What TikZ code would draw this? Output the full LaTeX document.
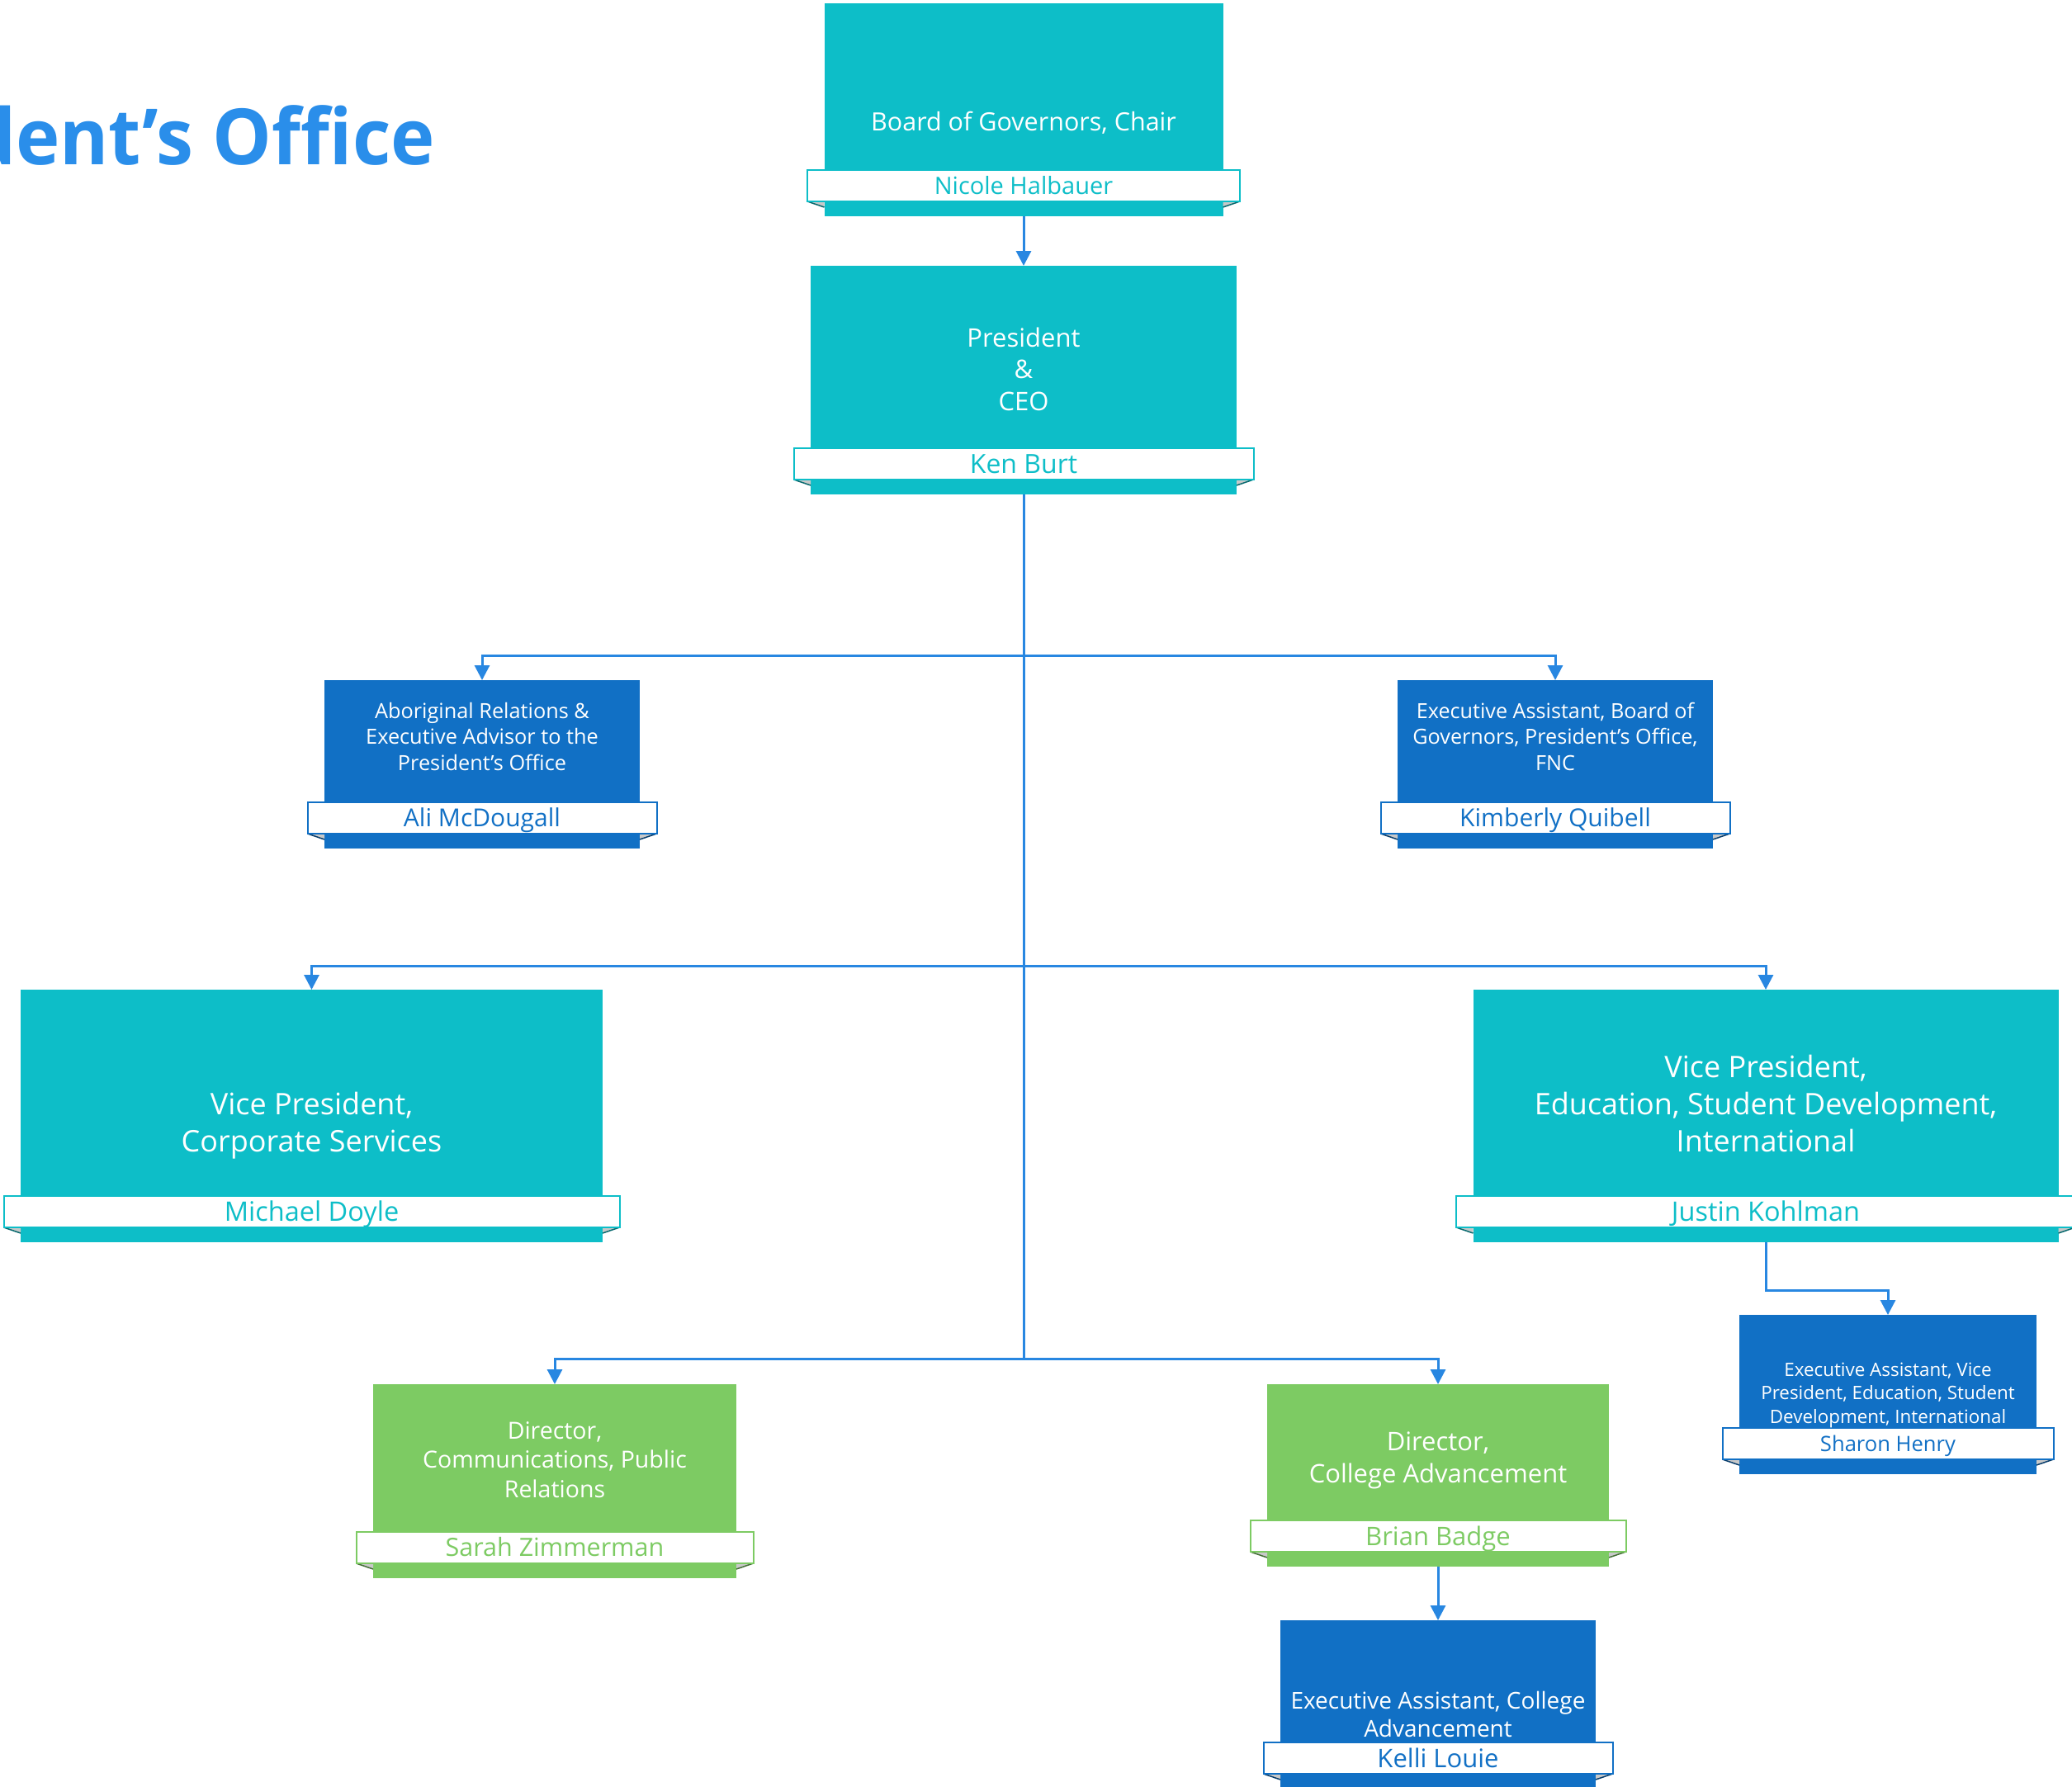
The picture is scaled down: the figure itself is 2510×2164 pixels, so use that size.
\documentclass[tikz,border=0pt]{standalone}
\usepackage{fontspec}
\setmainfont{Open Sans}
\newfontfamily\titlefont[FakeStretch=0.96]{Open Sans}
\usetikzlibrary{arrows.meta}
\definecolor{cTeal}{RGB}{13,190,200}
\definecolor{cBlue}{RGB}{17,112,197}
\definecolor{cGreen}{RGB}{125,203,99}
\definecolor{cLine}{RGB}{40,135,225}
\definecolor{cTitle}{RGB}{42,142,234}
\definecolor{cFold}{RGB}{200,200,200}
\tikzset{
  unitbox/.style={fill=#1, inner sep=0pt, anchor=north},
  ribbonbox/.style={fill=white, draw=#1, text=#1, line width=2pt, inner sep=0pt, minimum height=38pt},
  boxtxt/.style={text=white, anchor=base, inner sep=0pt},
  link/.style={draw=cLine, line width=3pt},
  conn/.style={link, -{Triangle[length=18pt,width=18pt]}},
}
\newcommand\orgunit[8]{%
  \pgfmathsetmacro\oRB{#4-18}%
  \pgfmathsetmacro\oRC{#4-37}%
  \pgfmathsetmacro\oXL{#2-#5}%
  \pgfmathsetmacro\oXR{#2+#5}%
  \pgfmathsetmacro\oRL{#2-#5-20.5}%
  \pgfmathsetmacro\oRR{#2+#5+20.5}%
  \pgfmathsetmacro\oW{2*#5}%
  \pgfmathsetmacro\oH{#4-#3}%
  \pgfmathsetmacro\oRW{2*#5+41}%
  \pgfmathsetmacro\oTH{0.714*#8}%
  \node[unitbox=#6, minimum width=\oW pt, minimum height=\oH pt] (#1) at (#2,#3) {};
  \fill[cFold] (\oRL,\oRB) -- (\oXL,\oRB) -- (\oXL,\oRB+7) -- cycle;
  \fill[cFold] (\oRR,\oRB) -- (\oXR,\oRB) -- (\oXR,\oRB+7) -- cycle;
  \draw[#6!55!black, line width=1.5pt] (\oRL,\oRB) -- (\oXL,\oRB+7);
  \draw[#6!55!black, line width=1.5pt] (\oRR,\oRB) -- (\oXR,\oRB+7);
  \node[ribbonbox=#6, minimum width=\oRW pt, text height=\oTH pt, text depth=0pt, font=\fontsize{#8}{#8}\selectfont] (#1-name) at (#2,\oRC) {#7};
}
\newcommand\boxtext[6]{%
  \foreach \oLine [count=\oI] in {#6}{%
    \node[boxtxt, font=\fontsize{#5}{#5}\selectfont] (#1-t\oI) at (#2,{#3+#4*(\oI-1)}) {\oLine};
  }%
}
\begin{document}
\begin{tikzpicture}[x=1pt,y=-1pt]
\useasboundingbox (0,0) rectangle (2510,2164);
\fill[white] (0,0) rectangle (2510,2164);
\node[anchor=base east, inner sep=0pt, text=cTitle, font=\titlefont\fontsize{94}{94}\selectfont\bfseries] (title) at (527,199) {President’s Office};

\orgunit{board}{1240}{4}{262}{241.5}{cTeal}{Nicole Halbauer}{29}
\boxtext{board}{1240}{158}{0}{30.5}{{Board of Governors, Chair}}

\orgunit{pres}{1240}{322}{599}{258}{cTeal}{Ken Burt}{32}
\boxtext{pres}{1240}{420}{38.5}{31}{President,\&,CEO}

\orgunit{abor}{584}{824}{1028}{191}{cBlue}{Ali McDougall}{30}
\boxtext{abor}{584}{870}{31.5}{25.3}{Aboriginal Relations \&,Executive Advisor to the,President’s Office}

\orgunit{kim}{1884}{824}{1028}{191}{cBlue}{Kimberly Quibell}{30}
\boxtext{kim}{1884}{870}{31.5}{25.2}{Executive Assistant{,} Board of,Governors{,} President’s Office{,},FNC}

\orgunit{vpc}{377.5}{1199}{1505}{352.5}{cTeal}{Michael Doyle}{32.5}
\boxtext{vpc}{377.5}{1350}{45}{36}{{Vice President,},Corporate Services}

\orgunit{vpe}{2139}{1199}{1505}{354.5}{cTeal}{Justin Kohlman}{32.5}
\boxtext{vpe}{2139}{1305}{45}{36}{{Vice President,},{Education, Student Development,},International}

\orgunit{sharon}{2287}{1593}{1786}{180}{cBlue}{Sharon Henry}{25.6}
\boxtext{sharon}{2287}{1667}{28.5}{22.4}{{Executive Assistant, Vice},{President, Education, Student},{Development, International}}

\orgunit{sarah}{672}{1677}{1912}{220}{cGreen}{Sarah Zimmerman}{30.5}
\boxtext{sarah}{672}{1743}{35.5}{28.5}{{Director,},{Communications, Public},Relations}

\orgunit{brian}{1742}{1677}{1898}{207}{cGreen}{Brian Badge}{31}
\boxtext{brian}{1742}{1757}{39}{31}{{Director,},College Advancement}

\orgunit{kelli}{1742}{1963}{2167}{191}{cBlue}{Kelli Louie}{31}
\boxtext{kelli}{1742}{2070}{34}{28}{{Executive Assistant, College},Advancement}

\coordinate (j1) at (1240,794);
\coordinate (j2) at (1240,1170);
\coordinate (j3) at (1240,1646);
\coordinate (k1) at (2139,1563);
\draw[conn] (board.south) -- (pres.north);
\draw[link] (pres.south) -- (j3);
\draw[conn] (j1) -| (abor.north);
\draw[conn] (j1) -| (kim.north);
\draw[conn] (j2) -| (vpc.north);
\draw[conn] (j2) -| (vpe.north);
\draw[conn] (j3) -| (sarah.north);
\draw[conn] (j3) -| (brian.north);
\draw[conn] (vpe.south) -- (k1) -| (sharon.north);
\draw[conn] (brian.south) -- (kelli.north);
\end{tikzpicture}
\end{document}
